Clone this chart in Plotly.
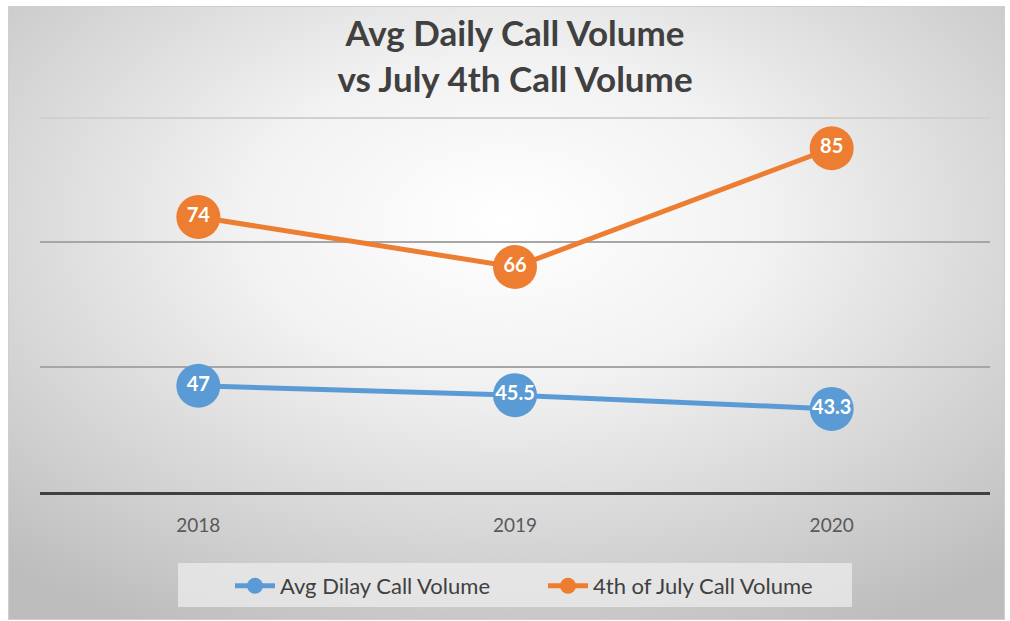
import base64
import plotly.graph_objects as go

years = ["2018", "2019", "2020"]
avg_daily = [47, 45.5, 43.3]
july4 = [74, 66, 85]
avg_labels = ["47", "45.5", "43.3"]
july_labels = ["74", "66", "85"]

BLUE = "#5B9BD5"
ORANGE = "#ED7D31"
FONT = "Lato"

W, H = 1010, 621
L, R, T, B = 40, 20, 117, 129
PW, PH = W - L - R, H - T - B

svg = (
    '<svg xmlns="http://www.w3.org/2000/svg" width="997" height="614" viewBox="0 0 997 614" preserveAspectRatio="none">'
    '<defs><radialGradient id="g" cx="50%" cy="35%" r="75%" fx="50%" fy="35%">'
    '<stop offset="0%" stop-color="#ffffff"/>'
    '<stop offset="35%" stop-color="#f2f2f2"/>'
    '<stop offset="100%" stop-color="#bdbdbd"/>'
    '</radialGradient></defs>'
    '<rect x="0" y="0" width="997" height="614" fill="url(#g)" stroke="#cfcfcf" stroke-width="2"/>'
    '</svg>'
)
src = "data:image/svg+xml;base64," + base64.b64encode(svg.encode()).decode()

def px_x(p):
    return (p - L) / PW

def px_y(p):
    return (H - B - p) / PH

fig = go.Figure()
fig.add_trace(go.Scatter(
    x=years, y=avg_daily, name="Avg Dilay Call Volume",
    mode="lines+markers+text", text=avg_labels, textposition="middle center",
    textfont=dict(family=FONT, size=20, color="white", weight="bold"),
    line=dict(color=BLUE, width=5),
    marker=dict(size=44, color=BLUE),
    cliponaxis=False,
))
fig.add_trace(go.Scatter(
    x=years, y=july4, name="4th of July Call Volume",
    mode="lines+markers+text", text=july_labels, textposition="middle center",
    textfont=dict(family=FONT, size=20, color="white", weight="bold"),
    line=dict(color=ORANGE, width=5),
    marker=dict(size=44, color=ORANGE),
    cliponaxis=False,
))
# invisible trace carrying the lighter top grid axis
fig.add_trace(go.Scatter(x=years, y=[None, None, None], yaxis="y2",
                         showlegend=False, hoverinfo="skip"))

fig.update_layout(
    width=W, height=H,
    margin=dict(l=L, r=R, t=T, b=B),
    paper_bgcolor="white",
    plot_bgcolor="rgba(0,0,0,0)",
    title=dict(
        text="Avg Daily Call Volume<br>vs July 4th Call Volume",
        x=0.5, xref="paper", xanchor="center",
        y=1 - 46 / H, yref="container", yanchor="middle",
        font=dict(family=FONT, size=35, color="#404040", weight="bold"),
    ),
    xaxis=dict(
        type="category", range=[-0.5, 2.5],
        showgrid=False, ticks="", showline=True, linecolor="#404040", linewidth=3,
        tickfont=dict(family=FONT, size=19, color="#595959"),
        ticklabelstandoff=14,
        zeroline=False,
    ),
    yaxis=dict(
        range=[30, 90], tickvals=[50, 70], showticklabels=False, showgrid=True,
        gridcolor="#a6a6a6", gridwidth=1.5, zeroline=False, showline=False,
    ),
    yaxis2=dict(
        range=[30, 90], tickvals=[89.8], showticklabels=False, overlaying="y",
        showgrid=True, side="left",
        gridcolor="#d0d0d0", gridwidth=1.5, zeroline=False, showline=False,
    ),
    legend=dict(
        orientation="h", x=px_x(230), xanchor="left", y=px_y(565), yanchor="top",
        bgcolor="rgba(0,0,0,0)",
        font=dict(family=FONT, size=22, color="#404040"),
        itemwidth=40, entrywidth=258, tracegroupgap=0,
    ),
    shapes=[dict(
        type="rect", xref="paper", yref="paper",
        x0=px_x(178), x1=px_x(852), y0=px_y(563), y1=px_y(607),
        fillcolor="rgba(236,236,236,0.75)", line=dict(width=0), layer="above",
    )],
    images=[dict(
        source=src, xref="paper", yref="paper",
        x=px_x(8), y=px_y(6), sizex=(1005 - 8) / PW, sizey=(620 - 6) / PH,
        xanchor="left", yanchor="top", sizing="stretch", layer="below",
    )],
    showlegend=True,
)

fig.write_html("out.html", config={"displayModeBar": False},
               post_script="document.body.style.margin='0';")
